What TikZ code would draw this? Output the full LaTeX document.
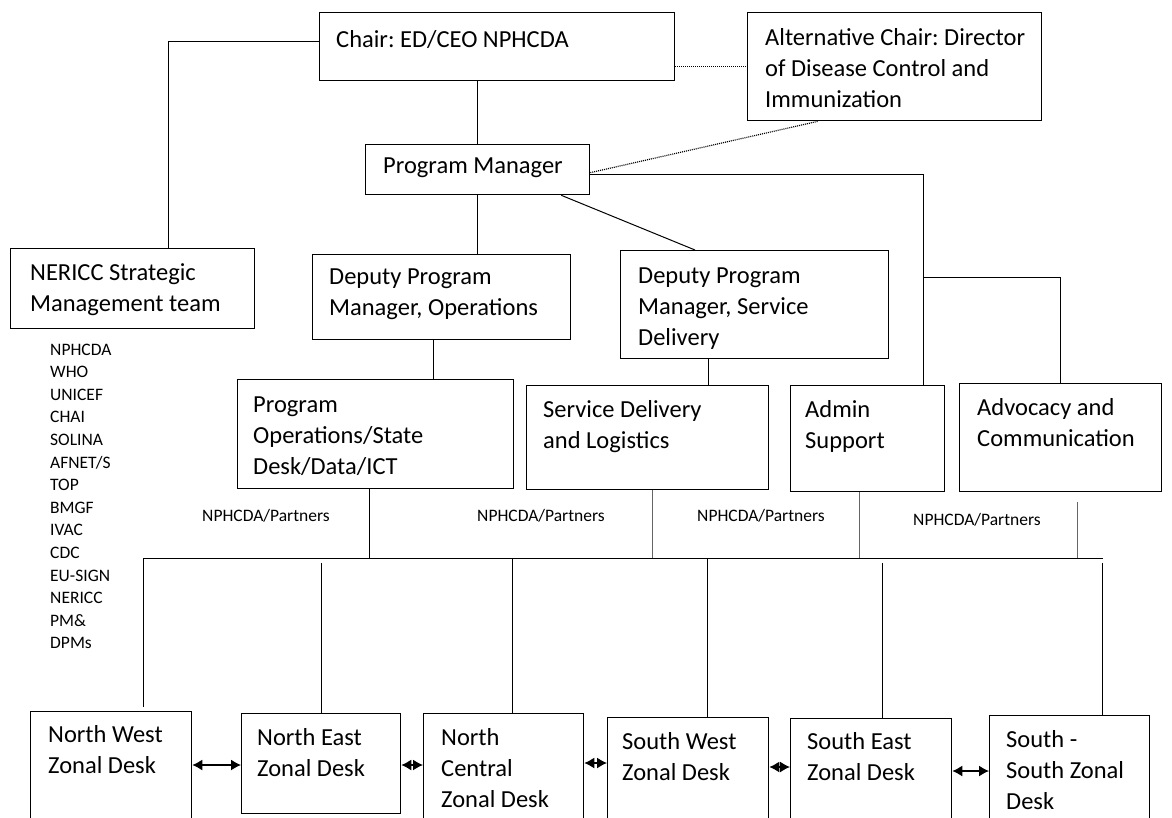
\documentclass[tikz,border=0pt]{standalone}
\usepackage{fontspec}
\setmainfont{Carlito}
\usetikzlibrary{arrows.meta}
\frenchspacing
\newcommand\mlines[1]{\begin{tabular}[t]{@{}l@{}}#1\end{tabular}}
\begin{document}
\begin{tikzpicture}[x=1pt,y=-1pt,
  box/.style={draw, line width=1.3pt, inner sep=0pt, anchor=north west},
  txt/.style={anchor=base west, inner sep=0pt, font=\frenchspacing\fontsize{24.5}{31}\selectfont},
  small/.style={anchor=base west, inner sep=0pt, font=\fontsize{17.5}{22.6}\selectfont},
  conn/.style={line width=1pt},
  lconn/.style={line width=0.9pt, draw=black!60},
  dots/.style={line width=1.2pt, dash pattern=on 1pt off 1pt},
  dbl/.style={line width=1.3pt, {Latex[length=10pt,width=11pt]}-{Latex[length=10pt,width=11pt]}}]
\useasboundingbox (0,0) rectangle (1172,817);
\fill[white] (0,0) rectangle (1172,817);
\clip (0,0) rectangle (1172,817);

% boxes
\node[box, minimum width=355pt, minimum height=68pt] (chair) at (319,12) {};
\node[box, minimum width=294pt, minimum height=108pt] (alt) at (747,12) {};
\node[box, minimum width=224pt, minimum height=50pt] (pm) at (365,144) {};
\node[box, minimum width=244pt, minimum height=80pt] (nericc) at (10,248) {};
\node[box, minimum width=258pt, minimum height=85pt] (dpmo) at (312,254) {};
\node[box, minimum width=268pt, minimum height=108pt] (dpmsd) at (620,250) {};
\node[box, minimum width=276pt, minimum height=109pt] (progops) at (237,379) {};
\node[box, minimum width=242pt, minimum height=104pt] (sdl) at (526,385) {};
\node[box, minimum width=154pt, minimum height=106pt] (admin) at (790,385) {};
\node[box, minimum width=202pt, minimum height=108pt] (adv) at (959,383) {};
\node[box, minimum width=161pt, minimum height=111pt] (nw) at (30,711) {};
\node[box, minimum width=159pt, minimum height=100pt] (ne) at (241,713) {};
\node[box, minimum width=160pt, minimum height=109pt] (nc) at (423,713) {};
\node[box, minimum width=161pt, minimum height=105pt] (sw) at (607,717) {};
\node[box, minimum width=161pt, minimum height=104pt] (se) at (790,718) {};
\node[box, minimum width=160pt, minimum height=107pt] (ss) at (989,715) {};

% texts
\node[txt] (chairT) at (336,47) {Chair: ED/CEO NPHCDA};
\node[txt] (altT) at (765,45) {\mlines{Alternative Chair: Director\\of Disease Control and\\Immunization}};
\node[txt] (pmT) at (383,173) {Program Manager};
\node[txt] (nericcT) at (30,280) {\mlines{NERICC Strategic\\Management team}};
\node[txt] (dpmoT) at (329,284) {\mlines{Deputy Program\\Manager, Operations}};
\node[txt] (dpmsdT) at (638,283) {\mlines{Deputy Program\\Manager, Service\\Delivery}};
\node[txt] (progopsT) at (253,412) {\mlines{Program\\Operations/State\\Desk/Data/ICT}};
\node[txt] (sdlT) at (543,417) {\mlines{Service Delivery\\and Logistics}};
\node[txt] (adminT) at (805,417) {\mlines{Admin\\Support}};
\node[txt] (advT) at (977,415) {\mlines{Advocacy and\\Communication}};
\node[txt] (nwT) at (48,742) {\mlines{North West\\Zonal Desk}};
\node[txt] (neT) at (257,745) {\mlines{North East\\Zonal Desk}};
\node[txt] (ncT) at (441,745) {\mlines{North\\Central\\Zonal Desk}};
\node[txt] (swT) at (622,749) {\mlines{South West\\Zonal Desk}};
\node[txt] (seT) at (807,749) {\mlines{South East\\Zonal Desk}};
\node[txt] (ssT) at (1006,747) {\mlines{South -\\South Zonal\\Desk}};

\node[small] (list) at (50,355) {\mlines{NPHCDA\\WHO\\UNICEF\\CHAI\\SOLINA\\AFNET/S\\TOP\\BMGF\\IVAC\\CDC\\EU-SIGN\\NERICC\\PM\&\\DPMs}};
\node[small] (l1) at (202,521) {NPHCDA/Partners};
\node[small] (l2) at (477,521) {NPHCDA/Partners};
\node[small] (l3) at (697,521) {NPHCDA/Partners};
\node[small] (l4) at (913,525) {NPHCDA/Partners};

% top connectors
\draw[conn] ([yshift=5pt]chair.west) -| ([xshift=158pt]nericc.north west);
\draw[conn] (chair.south -| pm.north) -- (pm.north);
\draw[dots] (chair.east |- alt.west) -- (alt.west);
\draw[dots] ([yshift=-3pt]pm.east) -- ([xshift=71pt]alt.south west);
\draw[conn] ([yshift=-5pt]pm.east) -| ([xshift=133pt]admin.north west);
\coordinate (br) at (923,277);
\draw[conn] (br) -| (adv.north);
\draw[conn] (pm.south) -- (pm.south |- dpmo.north);
\draw[conn] ([xshift=-29pt]pm.south east) -- ([xshift=75pt]dpmsd.north west);
\coordinate (a1) at ([xshift=121pt]dpmo.south west);
\draw[conn] (a1) -- (a1 |- progops.north);
\coordinate (a2) at ([xshift=88pt]dpmsd.south west);
\draw[conn] (a2) -- (a2 |- sdl.north);

% bus
\coordinate (busL) at (143,558);
\coordinate (busR) at (1103,558);
\draw[conn] (busL) -- (busR);
\coordinate (u1) at ([xshift=132pt]progops.south west);
\draw[conn] (u1) -- (u1 |- busL);
\coordinate (u2) at ([xshift=126pt]sdl.south west);
\draw[lconn] (u2) -- (u2 |- busL);
\coordinate (u3) at ([xshift=69pt]admin.south west);
\draw[lconn] (u3) -- (u3 |- busL);
\coordinate (u4) at ([xshift=118pt,yshift=-10pt]adv.south west);
\draw[lconn] (u4) -- (u4 |- busL);

\coordinate (d1) at ([xshift=113pt,yshift=4pt]nw.north west);
\draw[conn] (busL) -- (d1);
\draw[conn] (ne.north |- 0,563) -- (ne.north);
\coordinate (d3) at ([xshift=89pt]nc.north west);
\draw[conn] (d3 |- busL) -- (d3);
\coordinate (d4) at ([xshift=100pt]sw.north west);
\draw[conn] (d4 |- busL) -- (d4);
\coordinate (d5) at ([xshift=92pt]se.north west);
\draw[conn] (d5 |- 0,563) -- (d5);
\coordinate (d6) at ([xshift=113pt]ss.north west);
\draw[conn] (d6 |- 0,563) -- (d6);

% double arrows
\draw[dbl] (nw.east |- 0,765) -- (ne.west |- 0,765);
\draw[dbl] (ne.east |- 0,765) -- (nc.west |- 0,765);
\draw[dbl] (nc.east |- 0,763) -- (sw.west |- 0,763);
\draw[dbl] (sw.east |- 0,767) -- (se.west |- 0,767);
\draw[dbl] (se.east |- 0,771) -- (ss.west |- 0,771);
\end{tikzpicture}
\end{document}
